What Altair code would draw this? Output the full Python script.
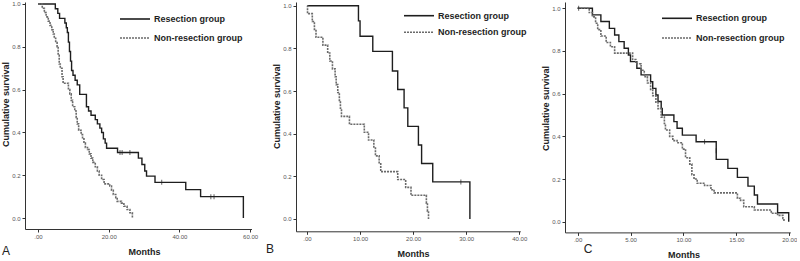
import altair as alt
import pandas as pd

GROUPS = ["Resection group", "Non-resection group"]
PANELS = ["A", "B", "C"]

# Panel A
A_res_t = [0, 4.9, 5.6, 6.1, 7.6, 8.0, 8.3, 8.6, 8.9, 9.2, 9.5, 9.9, 10.5, 11.1, 11.8, 13.7, 14.3, 15.0, 16.2, 16.8, 17.5, 18.0, 18.5, 19.0, 19.4, 22.5, 28.4, 29.4, 30.2, 30.7, 33.1, 41.8, 46.0, 58.1]
A_res_s = [1.0, 0.978, 0.956, 0.933, 0.911, 0.889, 0.867, 0.822, 0.778, 0.733, 0.689, 0.667, 0.644, 0.622, 0.578, 0.52, 0.50, 0.48, 0.46, 0.44, 0.42, 0.40, 0.37, 0.35, 0.326, 0.306, 0.28, 0.25, 0.22, 0.196, 0.167, 0.133, 0.10, 0.0]
A_non_t = [0, 1.2, 1.8, 2.3, 2.9, 3.4, 3.9, 4.3, 4.6, 5.0, 5.4, 5.7, 6.0, 6.3, 6.8, 7.1, 8.6, 9.0, 9.4, 9.8, 10.4, 10.8, 11.1, 11.5, 12.2, 12.6, 13.0, 13.4, 14.0, 14.5, 15.0, 15.5, 16.2, 16.8, 17.3, 18.0, 18.7, 20.3, 20.8, 21.3, 22.0, 22.4, 23.6, 24.3, 25.2, 26.0, 26.7]
A_non_s = [1, 0.98, 0.96, 0.94, 0.92, 0.90, 0.88, 0.86, 0.84, 0.82, 0.80, 0.76, 0.72, 0.70, 0.66, 0.63, 0.60, 0.58, 0.55, 0.52, 0.50, 0.47, 0.44, 0.41, 0.39, 0.37, 0.35, 0.33, 0.32, 0.30, 0.28, 0.26, 0.24, 0.22, 0.20, 0.18, 0.16, 0.15, 0.13, 0.11, 0.095, 0.078, 0.07, 0.055, 0.04, 0.025, 0.0]
A_cens_t = [23.2, 23.8, 26.0, 35.0, 48.9, 49.8]
A_cens_s = [0.306, 0.306, 0.306, 0.167, 0.10, 0.10]
A_xticks = [0, 10, 20, 30, 40, 50, 60]

# Panel B
B_res_t = [0, 9.7, 10.0, 12.4, 16.1, 17.1, 18.3, 19.0, 21.0, 21.6, 23.7, 30.7]
B_res_s = [1, 0.929, 0.857, 0.786, 0.694, 0.607, 0.521, 0.434, 0.347, 0.26, 0.174, 0.0]
B_non_t = [0, 0.1, 1.0, 1.4, 1.7, 3.0, 3.9, 4.3, 4.8, 5.3, 5.5, 5.8, 6.1, 6.3, 6.5, 8.0, 10.8, 11.6, 12.6, 12.9, 13.6, 13.9, 17.1, 18.6, 19.6, 22.5, 22.7, 22.9]
B_non_s = [1, 0.963, 0.926, 0.889, 0.852, 0.815, 0.778, 0.741, 0.704, 0.667, 0.630, 0.593, 0.556, 0.519, 0.481, 0.444, 0.407, 0.370, 0.333, 0.296, 0.259, 0.222, 0.185, 0.148, 0.111, 0.074, 0.037, 0.0]
B_cens_t = [29.0]
B_cens_s = [0.174]
B_xticks = [0, 10, 20, 30, 40]

# Panel C
C_res_t = [0, 1.4, 2.2, 3.0, 3.5, 3.9, 4.4, 4.8, 5.0, 5.6, 6.0, 6.9, 7.1, 7.4, 7.6, 7.9, 8.0, 9.1, 9.4, 9.9, 11.2, 13.1, 14.2, 15.1, 16.1, 16.7, 17.0, 18.9, 19.95]
C_res_s = [1, 0.969, 0.938, 0.906, 0.875, 0.844, 0.813, 0.781, 0.750, 0.719, 0.688, 0.656, 0.625, 0.594, 0.563, 0.531, 0.500, 0.469, 0.438, 0.406, 0.375, 0.292, 0.250, 0.208, 0.167, 0.125, 0.083, 0.042, 0.0]
C_non_t = [0, 1.1, 1.4, 1.7, 1.9, 2.2, 2.7, 3.1, 3.5, 5.2, 5.5, 6.0, 6.3, 6.6, 6.9, 7.1, 7.4, 7.6, 7.9, 8.2, 8.3, 8.7, 9.0, 9.4, 9.9, 10.2, 10.6, 10.8, 11.0, 11.3, 12.0, 12.6, 12.9, 15.1, 15.4, 15.7, 16.7, 18.3, 18.9, 19.4, 19.5]
C_non_s = [1, 0.98, 0.96, 0.93, 0.90, 0.87, 0.84, 0.82, 0.79, 0.76, 0.74, 0.71, 0.68, 0.65, 0.62, 0.59, 0.56, 0.53, 0.49, 0.46, 0.43, 0.40, 0.38, 0.37, 0.34, 0.30, 0.27, 0.22, 0.20, 0.18, 0.17, 0.15, 0.135, 0.11, 0.10, 0.07, 0.055, 0.04, 0.03, 0.015, 0.0]
C_cens_t = [0.1, 12.0, 13.1]
C_cens_s = [1.0, 0.375, 0.333]
C_xticks = [0, 5, 10, 15, 20]

Y_TICKS = [0.0, 0.2, 0.4, 0.6, 0.8, 1.0]

FONT = "Liberation Sans"
SOLID = "#1e1e1e"
DOTTED = "#6a6a6a"


def panel(label, res_t, res_s, non_t, non_s, cens_t, cens_s, xticks,
          xdom, width, ydom, height, leg_x, leg_y1, leg_y2, lab_x, lab_y,
          title_mid, title_y):
    xs = alt.Scale(domain=xdom, nice=False, zero=False)
    ys = alt.Scale(domain=ydom, nice=False, zero=False)
    title_x = (title_mid - xdom[0]) / (xdom[1] - xdom[0]) * width
    xax = alt.Axis(values=xticks, title="Months", grid=False, labelFlush=False,
                   labelExpr="datum.value == 0 ? '.00' : format(datum.value, '.2f')",
                   titleX=title_x, titlePadding=8, labelPadding=1.5)
    yax = alt.Axis(values=Y_TICKS, format=".1f", title="Cumulative survival",
                   grid=False, labelFlush=False, titleY=title_y,
                   titlePadding=1.5, labelPadding=2)

    res = pd.DataFrame({"t": res_t, "s": res_s})
    non = pd.DataFrame({"t": non_t, "s": non_s})
    cens = pd.DataFrame({"t": cens_t, "s": cens_s})

    l_res = alt.Chart(res).mark_line(interpolate="step-after", color=SOLID,
                                      strokeWidth=1.4).encode(
        x=alt.X("t:Q", scale=xs, axis=xax),
        y=alt.Y("s:Q", scale=ys, axis=yax))
    l_non = alt.Chart(non).mark_line(interpolate="step-after", color=DOTTED,
                                      strokeWidth=1.6, strokeDash=[2, 1]).encode(
        x=alt.X("t:Q", scale=xs), y=alt.Y("s:Q", scale=ys))
    l_cens = alt.Chart(cens).mark_tick(orient="vertical", color=SOLID, size=5,
                                        thickness=1).encode(
        x=alt.X("t:Q", scale=xs), y=alt.Y("s:Q", scale=ys))

    leg1 = pd.DataFrame({"g": [GROUPS[0]]})
    leg2 = pd.DataFrame({"g": [GROUPS[1]]})
    r1 = alt.Chart(leg1).mark_rule(color=SOLID, strokeWidth=1.6).encode(
        x=alt.value(leg_x), x2=alt.value(leg_x + 30), y=alt.value(leg_y1))
    r2 = alt.Chart(leg2).mark_rule(color=DOTTED, strokeWidth=1.6,
                                   strokeDash=[2, 1]).encode(
        x=alt.value(leg_x), x2=alt.value(leg_x + 30), y=alt.value(leg_y2))
    t1 = alt.Chart(leg1).mark_text(align="left", baseline="middle", font=FONT,
                                   fontSize=9, fontWeight="bold", color="#1e1e1e").encode(
        x=alt.value(leg_x + 34), y=alt.value(leg_y1), text="g:N")
    t2 = alt.Chart(leg2).mark_text(align="left", baseline="middle", font=FONT,
                                   fontSize=9, fontWeight="bold", color="#1e1e1e").encode(
        x=alt.value(leg_x + 34), y=alt.value(leg_y2), text="g:N")
    pl = alt.Chart(pd.DataFrame({"p": [label]})).mark_text(
        align="center", baseline="middle", font=FONT, fontSize=12,
        color="#222222").encode(x=alt.value(lab_x), y=alt.value(lab_y), text="p:N")

    return alt.layer(l_res, l_non, l_cens, r1, r2, t1, t2, pl).properties(
        width=width, height=height)


pA = panel(PANELS[0], A_res_t, A_res_s, A_non_t, A_non_s, A_cens_t, A_cens_s,
           A_xticks, [-3.68, 60.4], 226.5, [-0.051, 1.0093], 227,
           95, 17, 36, -19, 248.5, 30, 102)
pB = panel(PANELS[1], B_res_t, B_res_s, B_non_t, B_non_s, B_cens_t, B_cens_s,
           B_xticks, [-2.07, 40.2], 224.3, [-0.0577, 1.0173], 229.3,
           108, 13.7, 30.3, -26, 247, 20, 104)
pC = panel(PANELS[2], C_res_t, C_res_s, C_non_t, C_non_s, C_cens_t, C_cens_s,
           C_xticks, [-1.19, 20.1], 225.3, [-0.05, 1.0295], 230.4,
           97, 16.3, 36, 23, 247, 10, 106)

chart = alt.hconcat(pA, pB, pC, spacing=44, bounds="flush").resolve_scale(
    x="independent", y="independent"
).properties(
    padding={"left": 1, "top": 0, "right": 0, "bottom": 0},
    background="white",
).configure_view(stroke=None).configure_axis(
    labelFont=FONT, labelFontSize=6, labelColor="#555555",
    titleFont=FONT, titleFontSize=9, titleFontWeight="bold", titleColor="#222222",
    domainColor="#333333", tickColor="#333333", tickSize=3, domainWidth=1,
)

chart.save("out.html", embed_options={"renderer": "svg", "actions": False})
